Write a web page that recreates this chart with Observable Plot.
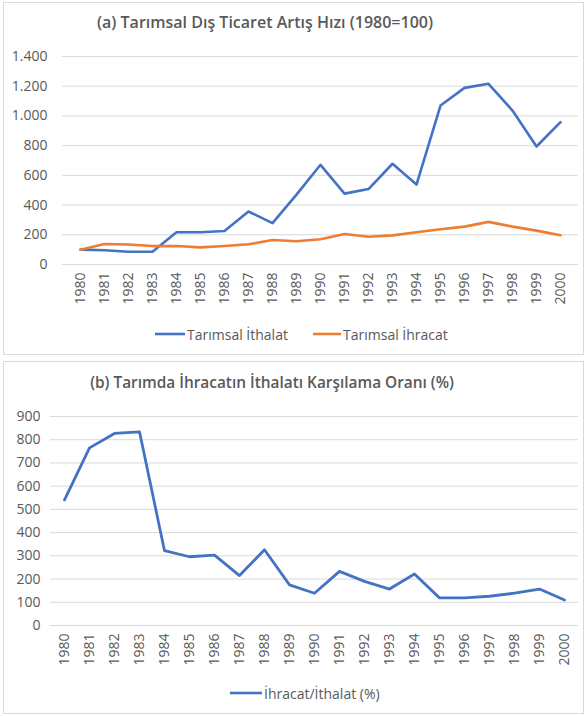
<!DOCTYPE html>
<html>
<head>
<meta charset="utf-8">
<script src="https://cdn.jsdelivr.net/npm/d3@7"></script>
<script src="https://cdn.jsdelivr.net/npm/@observablehq/plot@0.6"></script>
<style>
  html, body { margin: 0; padding: 0; background: #fff; }
  body { width: 586px; height: 716px; position: relative; overflow: hidden; font-family: "Open Sans", sans-serif; color: #595959; }
  .panel { position: absolute; border: 1px solid #d9d9d9; box-sizing: border-box; }
  .title { position: absolute; width: 500px; text-align: center; font-weight: 600; font-size: 16px; color: #595959; white-space: nowrap; }
  .chart { position: absolute; left: 0; }
  .leg { position: absolute; font-size: 14px; color: #595959; display: flex; align-items: center; white-space: nowrap; }
  .leg svg { display: block; margin-right: 2px; }
</style>
</head>
<body>
<div class="panel" style="left:3px; top:2px; width:581px; height:353px;"></div>
<div class="panel" style="left:3px; top:361px; width:581px; height:353px;"></div>
<div class="title" style="left:15px; top:11px;">(a) Tarımsal Dış Ticaret Artış Hızı (1980=100)</div>
<div class="title" style="left:22px; top:372px; font-size:15.4px;">(b) Tarımda İhracatın İthalatı Karşılama Oranı (%)</div>
<div id="chartA" class="chart" style="top:40px;"></div>
<div id="chartB" class="chart" style="top:400px;"></div>
<div id="legA1" class="leg" style="left:155px; top:324px;"></div>
<div id="legA2" class="leg" style="left:313px; top:324px;"></div>
<div id="legB" class="leg" style="left:230px; top:683px;"></div>
<script>
const years = ["1980","1981","1982","1983","1984","1985","1986","1987","1988","1989","1990","1991","1992","1993","1994","1995","1996","1997","1998","1999","2000"];
const ithalat = [100, 96, 86, 86, 217, 217, 226, 357, 278, 470, 671, 477, 508, 678, 538, 1070, 1189, 1216, 1036, 794, 958];
const ihracat = [100, 138, 135, 124, 124, 115, 125, 136, 165, 157, 170, 205, 187, 196, 217, 237, 255, 287, 255, 228, 197];
const oran = [541, 765, 827, 834, 322, 296, 303, 215, 326, 175, 139, 233, 190, 157, 222, 119, 119, 126, 139, 157, 110];
const ticksA = [0, 200, 400, 600, 800, 1000, 1200, 1400];
const ticksB = [0, 100, 200, 300, 400, 500, 600, 700, 800, 900];
const seriesA = ["Tarımsal İthalat", "Tarımsal İhracat"];
const seriesB = "İhracat/İthalat (%)";
const BLUE = "#4472C4", ORANGE = "#ED7D31", GRID = "#d9d9d9", TXT = "#595959";

const fmtTR = d => d3.format(",")(d).replace(/,/g, ".");

const dataA = [
  ...years.map((y, i) => ({year: y, value: ithalat[i], series: seriesA[0]})),
  ...years.map((y, i) => ({year: y, value: ihracat[i], series: seriesA[1]}))
];
const dataB = years.map((y, i) => ({year: y, value: oran[i]}));

const common = {
  width: 586,
  style: {fontFamily: "Open Sans, sans-serif", fontSize: "14px", color: TXT, background: "transparent", overflow: "visible"}
};

const plotA = Plot.plot({
  ...common,
  height: 280,
  marginTop: 16,
  marginBottom: 56,
  marginLeft: 62,
  marginRight: 8,
  x: {type: "point", domain: years, padding: 0.5, label: null},
  y: {domain: [0, 1400], label: null},
  color: {domain: seriesA, range: [BLUE, ORANGE]},
  marks: [
    Plot.ruleY(ticksA, {stroke: GRID, strokeWidth: 1}),
    Plot.axisY({ticks: ticksA, tickFormat: fmtTR, tickSize: 0, tickPadding: 15, label: null, fill: TXT}),
    Plot.axisX({tickSize: 0, tickPadding: 8, tickRotate: -90, label: null, fill: TXT}),
    Plot.line(dataA, {x: "year", y: "value", stroke: "series", strokeWidth: 2.6, strokeLinejoin: "round", strokeLinecap: "round"})
  ]
});
document.getElementById("chartA").appendChild(plotA);

const plotB = Plot.plot({
  ...common,
  height: 300,
  marginTop: 16,
  marginBottom: 75,
  marginLeft: 50,
  marginRight: 8,
  x: {type: "point", domain: years, padding: 0.5, label: null},
  y: {domain: [0, 900], label: null},
  marks: [
    Plot.ruleY(ticksB, {stroke: GRID, strokeWidth: 1}),
    Plot.axisY({ticks: ticksB, tickSize: 0, tickPadding: 10, label: null, fill: TXT}),
    Plot.axisX({tickSize: 0, tickPadding: 8, tickRotate: -90, label: null, fill: TXT}),
    Plot.line(dataB, {x: "year", y: "value", stroke: BLUE, strokeWidth: 2.8, strokeLinejoin: "round", strokeLinecap: "round"})
  ]
});
document.getElementById("chartB").appendChild(plotB);

function legend(id, color, label, w) {
  const el = document.getElementById(id);
  el.innerHTML = `<svg width="${w}" height="20"><line x1="0" x2="${w}" y1="10" y2="10" stroke="${color}" stroke-width="2.6"/></svg><span>${label}</span>`;
}
legend("legA1", BLUE, seriesA[0], 30);
legend("legA2", ORANGE, seriesA[1], 28);
legend("legB", BLUE, seriesB, 32);
</script>
</body>
</html>
